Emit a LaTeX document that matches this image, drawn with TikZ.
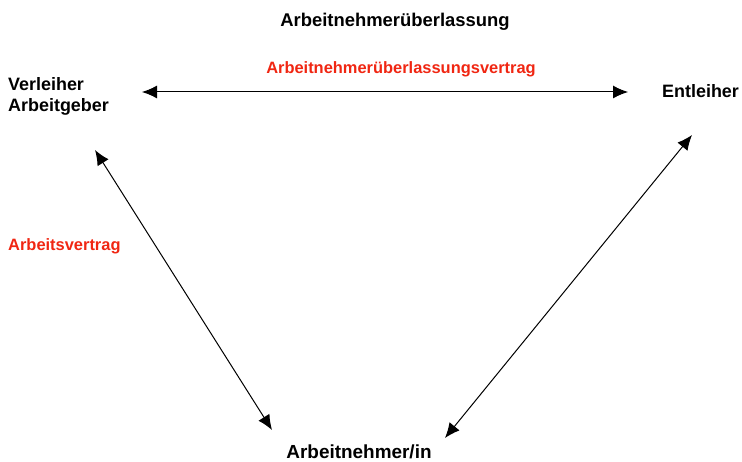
\documentclass[tikz,border=0pt]{standalone}
\usepackage{fontspec}
\setmainfont{Liberation Sans}
\usetikzlibrary{arrows.meta}
\definecolor{vertragrot}{RGB}{240,38,18}
\begin{document}
\begin{tikzpicture}[x=1bp,y=-1bp,>={Latex[length=15bp,width=13bp]}]
	\tikzset{partei/.style={font=\fontsize{18}{21}\selectfont\bfseries, inner sep=0pt},
	         vertrag/.style={font=\fontsize{16.5}{20}\selectfont\bfseries, text=vertragrot, inner sep=0pt}}
	\useasboundingbox (0,0) rectangle (742,462);
	\coordinate (VerleiherEnd)   at (142,92);
	\coordinate (EntleiherEnd)   at (628,92);
	\coordinate (VerleiherFuss)  at (95,150);
	\coordinate (ANLinks)        at (272,430);
	\coordinate (EntleiherFuss)  at (692,135);
	\coordinate (ANRechts)       at (445,438);
	
	\node[partei, font=\fontsize{18.5}{22}\selectfont\bfseries, anchor=base] (Titel) at (395,26.5) {Arbeitnehmerüberlassung};
	\node[vertrag, anchor=base] (AUEVertrag) at (401,73.5) {Arbeitnehmerüberlassungsvertrag};
	\node[partei, anchor=north west, align=left] (Verleiher) at (8,77) {Verleiher\\Arbeitgeber};
	\node[partei, anchor=base west] (Entleiher) at (662,97.5) {Entleiher};
	\node[vertrag, anchor=base west] (Arbeitsvertrag) at (8,250.5) {Arbeitsvertrag};
	\node[partei, font=\fontsize{19}{22}\selectfont\bfseries, anchor=base] (Arbeitnehmer) at (359,458) {Arbeitnehmer/in};
	
	\draw [line width=1bp,<->] (VerleiherEnd) -- (EntleiherEnd) ;% Ueberlassungsvertrag
	\draw [line width=1bp,<->] (VerleiherFuss) -- (ANLinks) ;% Arbeitsvertrag
	\draw [line width=1bp,<->] (EntleiherFuss) -- (ANRechts) ;
\end{tikzpicture}
\end{document}
